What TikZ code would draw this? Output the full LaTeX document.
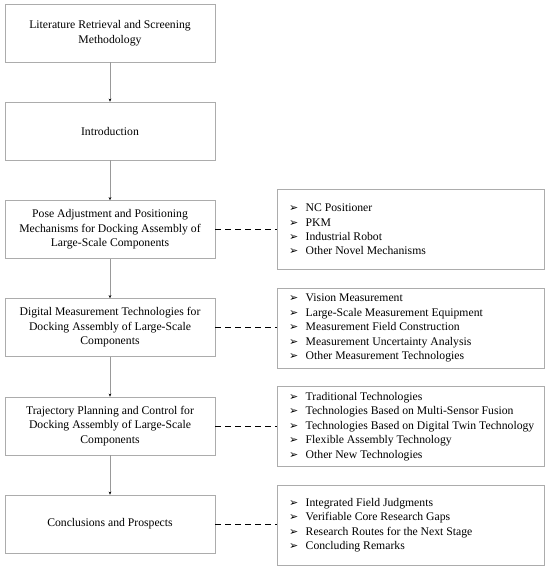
\documentclass[tikz,border=0pt]{standalone}
\usepackage{fontspec}
\setmainfont{Liberation Serif}
\newfontfamily\dejavu{DejaVu Sans}
\usetikzlibrary{arrows.meta}
\newcommand{\bul}{\makebox[16.5pt][l]{\dejavu\fontsize{11}{12}\selectfont ➢}}
\begin{document}
\begin{tikzpicture}[x=1pt,y=-1pt,
  mainbox/.style={draw=gray!65,line width=0.7pt,minimum width=210pt,minimum height=58pt,align=center,inner sep=0pt,font=\fontsize{11.7}{14.5}\selectfont},
  listbox/.style={draw=gray!65,line width=0.7pt,minimum width=267pt,minimum height=80pt,inner sep=0pt},
  listtext/.style={align=left,anchor=west,inner sep=0pt,font=\fontsize{11.7}{14.4}\selectfont},
  flow/.style={draw=gray!80,line width=0.5pt,-{Stealth[length=3pt,width=2.6pt,color=black]}},
  link/.style={draw=black,line width=0.9pt,dash pattern=on 6pt off 4pt}]
\useasboundingbox (0,0) rectangle (550,570);
\fill[white] (0,0) rectangle (550,570);
\node[mainbox] (b1) at (110,33) {Literature Retrieval and Screening\\Methodology};
\node[mainbox] (b2) at (110,131) {Introduction};
\node[mainbox] (b3) at (110,229.5) {Pose Adjustment and Positioning\\Mechanisms for Docking Assembly of\\Large-Scale Components};
\node[mainbox] (b4) at (110,327.5) {Digital Measurement Technologies for\\Docking Assembly of Large-Scale\\Components};
\node[mainbox] (b5) at (110,426) {Trajectory Planning and Control for\\Docking Assembly of Large-Scale\\Components};
\node[mainbox] (b6) at (110,524) {Conclusions and Prospects};
\draw[flow] (b1) -- (b2);
\draw[flow] (b2) -- (b3);
\draw[flow] (b3) -- (b4);
\draw[flow] (b4) -- (b5);
\draw[flow] (b5) -- (b6);
\node[listbox] (r1) at (410.5,229.5) {};
\node[listbox] (r2) at (410.5,328) {};
\node[listbox] (r3) at (410.5,426.5) {};
\node[listbox] (r4) at (410.5,525) {};
\node[listtext] (t1) at (289,229.5) {\bul NC Positioner\\\bul PKM\\\bul Industrial Robot\\\bul Other Novel Mechanisms};
\node[listtext] (t2) at (289,328) {\bul Vision Measurement\\\bul Large-Scale Measurement Equipment\\\bul Measurement Field Construction\\\bul Measurement Uncertainty Analysis\\\bul Other Measurement Technologies};
\node[listtext] (t3) at (289,426.5) {\bul Traditional Technologies\\\bul Technologies Based on Multi-Sensor Fusion\\\bul Technologies Based on Digital Twin Technology\\\bul Flexible Assembly Technology\\\bul Other New Technologies};
\node[listtext] (t4) at (289,525) {\bul Integrated Field Judgments\\\bul Verifiable Core Research Gaps\\\bul Research Routes for the Next Stage\\\bul Concluding Remarks};
\draw[link] (b3.east) -- (b3.east -| r1.west);
\draw[link] (b4.east) -- (b4.east -| r2.west);
\draw[link] (b5.east) -- (b5.east -| r3.west);
\draw[link] (b6.east) -- (b6.east -| r4.west);
\end{tikzpicture}
\end{document}
